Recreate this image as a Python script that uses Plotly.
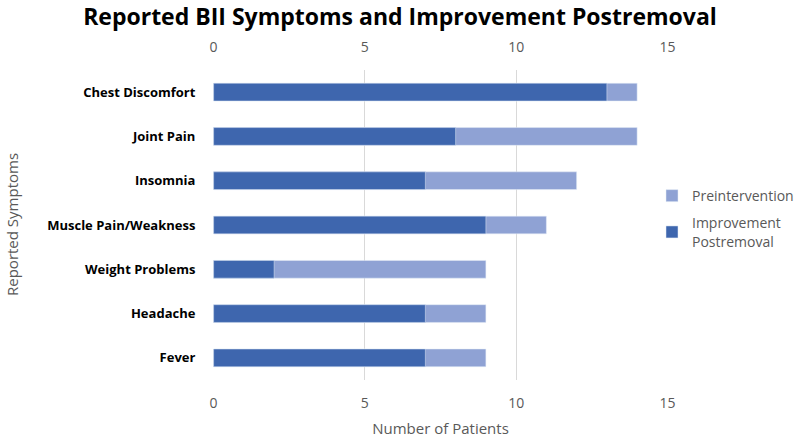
import plotly.graph_objects as go

categories = ["Chest Discomfort", "Joint Pain", "Insomnia", "Muscle Pain/Weakness",
              "Weight Problems", "Headache", "Fever"]
preintervention = [14, 14, 12, 11, 9, 9, 9]
improvement = [13, 8, 7, 9, 2, 7, 7]
tick_vals = [0, 5, 10, 15]

FONT = "Open Sans"
GRAY = "#595959"
L, R, T, B = 213, 0, 70, 58
PW = 800 - L - R
DOM_END = (668 - L) / PW

fig = go.Figure()
fig.add_trace(go.Bar(y=categories, x=preintervention, orientation="h",
                     name="Preintervention", marker_color="#8FA2D4", width=0.4,
                     legendgroup="a"))
fig.add_trace(go.Bar(y=categories, x=improvement, orientation="h",
                     name="Improvement<br>Postremoval", marker_color="#3E66AE", width=0.4,
                     legendgroup="b"))
fig.add_trace(go.Scatter(x=[0, 15], y=[categories[0], categories[0]], xaxis="x2",
                         mode="markers", marker_opacity=0, showlegend=False, hoverinfo="skip"))

fig.update_layout(
    width=800, height=438,
    barmode="overlay",
    plot_bgcolor="white", paper_bgcolor="white",
    margin=dict(l=L, r=R, t=T, b=B),
    font=dict(family=FONT, color=GRAY, size=14),
    title=dict(text="<b>Reported BII Symptoms and Improvement Postremoval</b>",
               x=0.5, xanchor="center", y=0.962, yanchor="middle",
               font=dict(size=23, color="#000000", family=FONT)),
    xaxis=dict(domain=[0, DOM_END], range=[-0.02, 15.02], tickvals=tick_vals,
               showgrid=True, gridcolor="#D9D9D9",
               gridwidth=1, zeroline=False, showline=False, ticks="outside",
               ticklen=10, tickcolor="rgba(0,0,0,0)", automargin=False,
               title=dict(text="Number of Patients", font=dict(size=15, color=GRAY),
                          standoff=12),
               tickfont=dict(size=14, color=GRAY)),
    xaxis2=dict(domain=[0, DOM_END], range=[-0.02, 15.02], tickvals=tick_vals,
                overlaying="x", side="top",
                showgrid=False, zeroline=False, showline=False, ticks="outside",
                ticklen=11, tickcolor="rgba(0,0,0,0)", automargin=False,
                tickfont=dict(size=14, color=GRAY)),
    yaxis=dict(categoryorder="array", categoryarray=categories[::-1],
               showgrid=False, zeroline=False, showline=False, ticks="outside",
               ticklen=14, tickcolor="rgba(0,0,0,0)", automargin=False,
               tickfont=dict(size=13, color="#000000", family=FONT)),
    legend=dict(x=(652 - L) / PW, y=0.645, xanchor="left", yanchor="top",
                font=dict(size=14, color=GRAY), traceorder="grouped",
                itemwidth=30, tracegroupgap=6, bgcolor="rgba(0,0,0,0)"),
    annotations=[dict(text="Reported Symptoms", textangle=-90, xref="paper", yref="paper",
                      x=(12 - L) / PW, y=0.5, xanchor="center", yanchor="middle",
                      showarrow=False, font=dict(size=15, color=GRAY))],
)
fig.update_yaxes(tickprefix="<b>", ticksuffix="</b>")
fig.write_html("out.html", config={"displayModeBar": False},
               post_script="document.body.style.margin='0';")
